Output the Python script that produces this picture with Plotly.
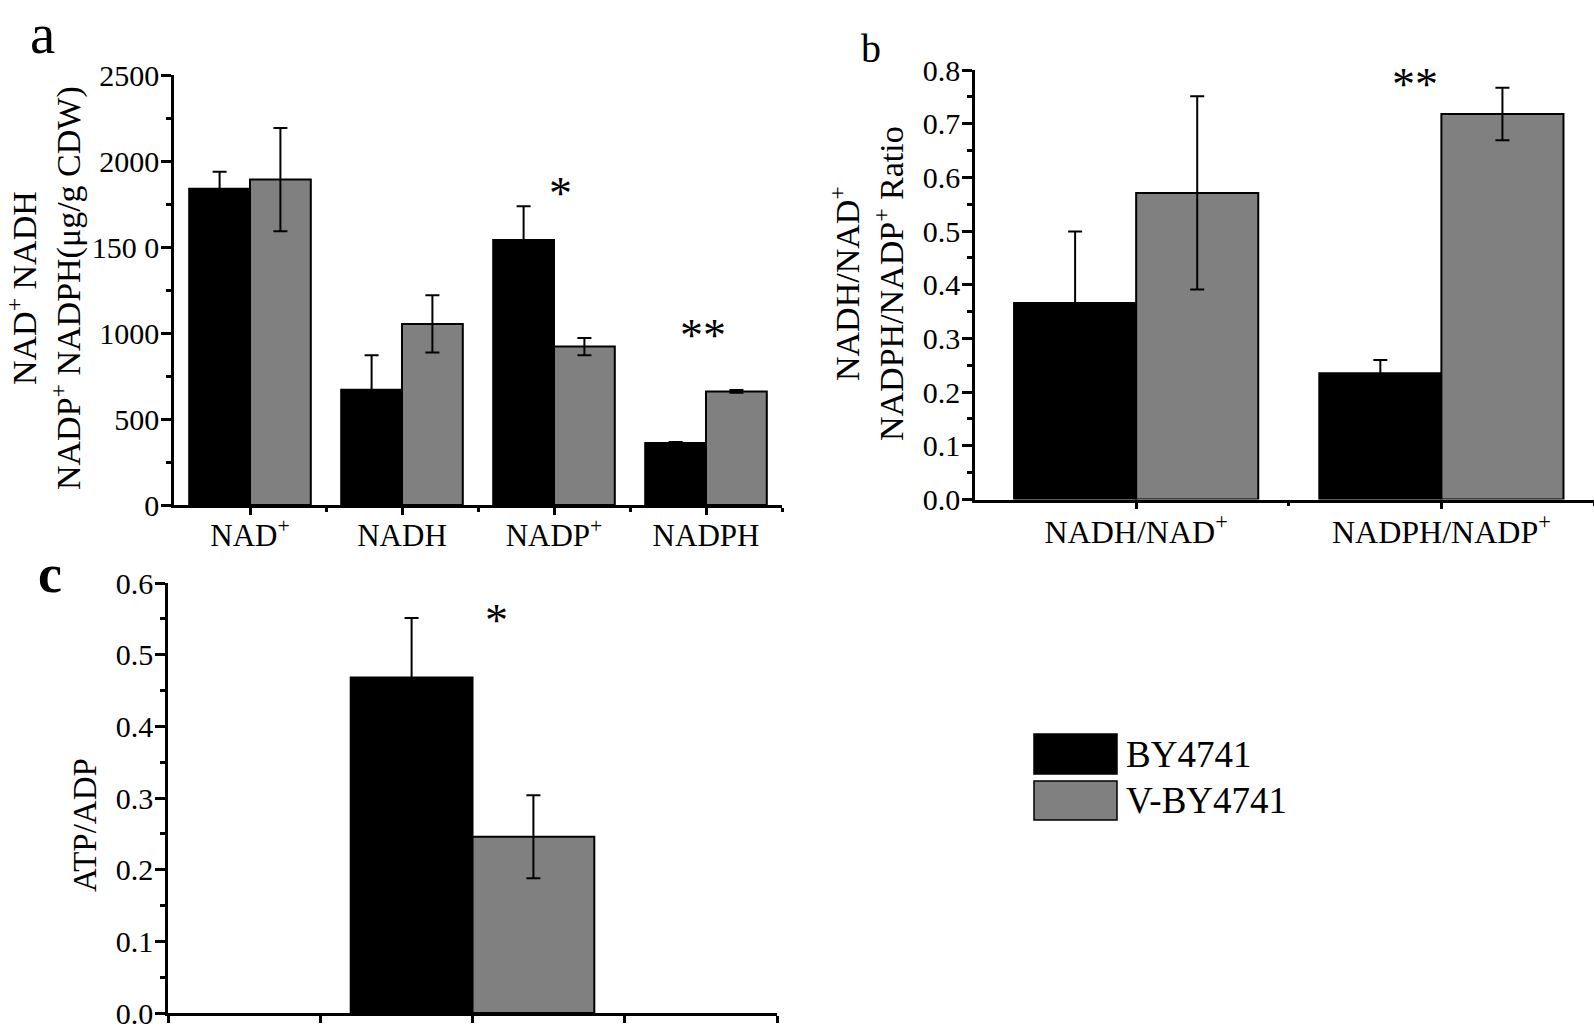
import plotly.graph_objects as go

# ---------------- data ----------------
series_names = ["BY4741", "V-BY4741"]
series_colors = ["#000000", "#808080"]

a_categories = ["NAD<sup>+</sup>", "NADH", "NADP<sup>+</sup>", "NADPH"]
a_by4741 = [1838, 670, 1540, 361]
a_by4741_err = [100, 200, 197, 5]
a_vby4741 = [1892, 1053, 921, 660]
a_vby4741_err = [300, 167, 50, 8]
a_ticks = [0, 500, 1000, 1500, 2000, 2500]
a_ticklabels = ["0", "500", "1000", "150 0", "2000", "2500"]

b_categories = ["NADH/NAD<sup>+</sup>", "NADPH/NADP<sup>+</sup>"]
b_by4741 = [0.366, 0.235]
b_by4741_err = [0.133, 0.025]
b_vby4741 = [0.571, 0.718]
b_vby4741_err = [0.18, 0.049]
b_ticks = [0.0, 0.1, 0.2, 0.3, 0.4, 0.5, 0.6, 0.7, 0.8]

c_by4741 = [0.468]
c_by4741_err = [0.083]
c_vby4741 = [0.246]
c_vby4741_err = [0.058]
c_ticks = [0.0, 0.1, 0.2, 0.3, 0.4, 0.5, 0.6]

# ---------------- layout helpers ----------------
W, H = 1594, 1032
FONT = "Liberation Serif"


def px_x(v):
    return v / W


def px_y(v):
    return 1 - v / H


fig = go.Figure()

err_style = dict(type="data", visible=True, color="black", thickness=2, width=7)

# panel a
a_x = list(range(len(a_categories)))
for name, col, vals, errs in [
    (series_names[0], series_colors[0], a_by4741, a_by4741_err),
    (series_names[1], series_colors[1], a_vby4741, a_vby4741_err),
]:
    fig.add_trace(go.Bar(
        x=a_x, y=vals, name=name, marker=dict(color=col, line=dict(color="black", width=2)),
        error_y=dict(array=errs, **err_style), xaxis="x", yaxis="y", showlegend=False,
        offsetgroup=name,
    ))

# panel b
b_x = list(range(len(b_categories)))
for name, col, vals, errs in [
    (series_names[0], series_colors[0], b_by4741, b_by4741_err),
    (series_names[1], series_colors[1], b_vby4741, b_vby4741_err),
]:
    fig.add_trace(go.Bar(
        x=b_x, y=vals, name=name, marker=dict(color=col, line=dict(color="black", width=2)),
        error_y=dict(array=errs, **err_style), xaxis="x2", yaxis="y2", showlegend=False,
        offsetgroup=name,
    ))

# panel c (single group centred on x = 2 of a 0..4 axis)
c_center = 2
for name, col, vals, errs, off in [
    (series_names[0], series_colors[0], c_by4741, c_by4741_err, -0.8),
    (series_names[1], series_colors[1], c_vby4741, c_vby4741_err, 0.0),
]:
    fig.add_trace(go.Bar(
        x=[c_center], y=vals, name=name, width=0.8, offset=off,
        marker=dict(color=col, line=dict(color="black", width=2)),
        error_y=dict(array=errs, **err_style), xaxis="x3", yaxis="y3", showlegend=False,
    ))

axis_common = dict(
    showline=True, linecolor="black", linewidth=2.5, mirror=False,
    ticks="outside", tickcolor="black", tickwidth=2.5,
    showgrid=False, zeroline=False, automargin=False,
)
num_font = dict(family=FONT, size=30, color="black")
minor_style = dict(ticks="outside", tickcolor="black", tickwidth=2.5)

fig.update_layout(
    template="none",
    width=W, height=H, autosize=False,
    margin=dict(l=0, r=0, t=0, b=0, pad=0),
    paper_bgcolor="white", plot_bgcolor="white",
    barmode="group", bargap=0.2, bargroupgap=0.0,
    showlegend=False,
    font=dict(family=FONT, color="black", size=30),
    xaxis=dict(
        domain=[px_x(174), px_x(782)], anchor="y", range=[-0.5, 3.5],
        tickmode="array", tickvals=a_x, ticktext=a_categories, ticklen=7,
        ticklabelstandoff=-6,
        minor=dict(tickmode="array", tickvals=[0.5, 1.5, 2.5, 3.5], ticklen=4, **minor_style),
        tickfont=dict(family=FONT, size=31, color="black"),
        **axis_common,
    ),
    yaxis=dict(
        domain=[px_y(505), px_y(75)], anchor="x", range=[0, 2500],
        tickmode="array", tickvals=a_ticks, ticktext=a_ticklabels, ticklen=10,
        ticklabelstandoff=-4,
        minor=dict(tickmode="linear", tick0=0, dtick=250, ticklen=5, **minor_style),
        tickfont=num_font,
        **axis_common,
    ),
    xaxis2=dict(
        domain=[px_x(975), 1.0], anchor="y2", range=[-0.528, 1.5],
        tickmode="array", tickvals=b_x, ticktext=b_categories, ticklen=7,
        ticklabelstandoff=-5,
        minor=dict(tickmode="array", tickvals=[0.5, 1.5], ticklen=4, **minor_style),
        tickfont=dict(family=FONT, size=32, color="black"),
        **axis_common,
    ),
    yaxis2=dict(
        domain=[px_y(499.5), px_y(70)], anchor="x2", range=[0, 0.8],
        tickmode="array", tickvals=b_ticks, ticktext=[f"{t:.1f}" for t in b_ticks], ticklen=10,
        ticklabelstandoff=-4,
        minor=dict(tickmode="linear", tick0=0, dtick=0.05, ticklen=5, **minor_style),
        tickfont=num_font,
        **axis_common,
    ),
    xaxis3=dict(
        domain=[px_x(168), px_x(777)], anchor="y3", range=[0, 4],
        tickmode="array", tickvals=[0, 1, 2, 3, 4], showticklabels=False, ticklen=7,
        **axis_common,
    ),
    yaxis3=dict(
        domain=[px_y(1013), px_y(583)], anchor="x3", range=[0, 0.6],
        tickmode="array", tickvals=c_ticks, ticktext=[f"{t:.1f}" for t in c_ticks], ticklen=10,
        ticklabelstandoff=-4,
        minor=dict(tickmode="linear", tick0=0, dtick=0.05, ticklen=5, **minor_style),
        tickfont=num_font,
        **axis_common,
    ),
)

annotations = []

# y-axis titles
annotations.append(dict(
    text="NAD<sup>+</sup> NADH<br>NADP<sup>+</sup> NADPH(μg/g CDW)",
    xref="paper", yref="paper", x=px_x(44), y=px_y(288), textangle=-90,
    xanchor="center", yanchor="middle", showarrow=False,
    font=dict(family=FONT, size=34, color="black"),
))
annotations.append(dict(
    text="NADH/NAD<sup>+</sup><br>NADPH/NADP<sup>+</sup> Ratio",
    xref="paper", yref="paper", x=px_x(867), y=px_y(284), textangle=-90,
    xanchor="center", yanchor="middle", showarrow=False,
    font=dict(family=FONT, size=34, color="black"),
))
annotations.append(dict(
    text="ATP/ADP",
    xref="paper", yref="paper", x=px_x(85), y=px_y(825), textangle=-90,
    xanchor="center", yanchor="middle", showarrow=False,
    font=dict(family=FONT, size=33, color="black"),
))

# panel letters
annotations.append(dict(text="a", xref="paper", yref="paper", x=px_x(42), y=1.0,
                        xanchor="center", yanchor="top", showarrow=False,
                        font=dict(family=FONT, size=57, color="black")))
annotations.append(dict(text="b", xref="paper", yref="paper", x=px_x(871), y=px_y(49),
                        xanchor="center", yanchor="middle", showarrow=False,
                        font=dict(family=FONT, size=40, color="black")))
annotations.append(dict(text="<b>c</b>", xref="paper", yref="paper", x=px_x(50), y=px_y(579),
                        yshift=5, xanchor="center", yanchor="middle", showarrow=False,
                        font=dict(family=FONT, size=54, color="black")))

# significance marks
star_font = dict(family=FONT, size=46, color="black")
annotations += [
    dict(text="*", xref="x", yref="y", x=2.04, y=1840, yshift=-5, showarrow=False,
         xanchor="center", yanchor="middle", font=star_font),
    dict(text="**", xref="x", yref="y", x=2.98, y=1015, yshift=-5, showarrow=False,
         xanchor="center", yanchor="middle", font=star_font),
    dict(text="**", xref="x2", yref="y2", x=0.913, y=0.782, yshift=-5, showarrow=False,
         xanchor="center", yanchor="middle", font=star_font),
    dict(text="*", xref="x3", yref="y3", x=2.16, y=0.555, yshift=-5, showarrow=False,
         xanchor="center", yanchor="middle", font=star_font),
]

# legend (drawn manually to get large swatches)
shapes = []
legend_rows = [(734, 774), (781, 820)]
for (top, bot), name, col in zip(legend_rows, series_names, series_colors):
    shapes.append(dict(type="rect", xref="paper", yref="paper",
                       x0=px_x(1034), x1=px_x(1117), y0=px_y(bot), y1=px_y(top),
                       fillcolor=col, line=dict(color="black", width=1.5)))
    annotations.append(dict(text=name, xref="paper", yref="paper",
                            x=px_x(1124), y=px_y((top + bot) / 2),
                            xanchor="left", yanchor="middle", showarrow=False,
                            font=dict(family=FONT, size=37, color="black")))

fig.update_layout(annotations=annotations, shapes=shapes)

fig.write_html(
    "out.html",
    config={"displayModeBar": False},
    post_script="document.body.style.margin='0px';document.body.style.overflow='hidden';",
)
